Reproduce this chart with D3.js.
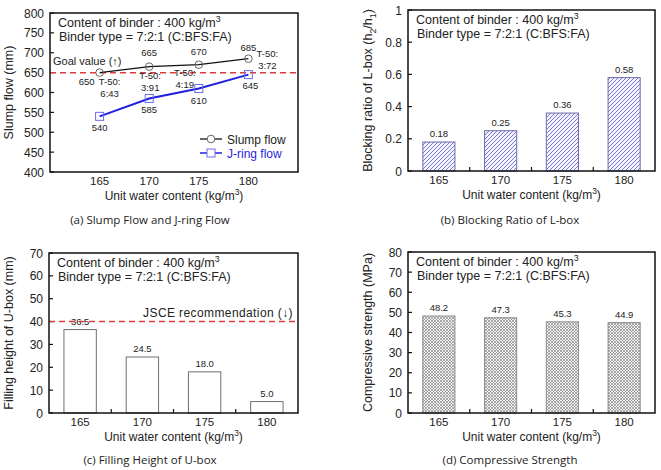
<!DOCTYPE html>
<html>
<head>
<meta charset="utf-8">
<script src="https://cdn.jsdelivr.net/npm/d3@7"></script>
<style>
  body { margin: 0; background: #fff; }
  svg text { font-family: "Liberation Sans", Arial, sans-serif; }
  .cap { font-family: "Open Sans", "Noto Sans", sans-serif; }
</style>
</head>
<body>
<div id="chart"></div>
<script>
// data
var water = [165, 170, 175, 180];
var slumpFlow = [650, 665, 670, 685];
var jringFlow = [540, 585, 610, 645];
var t50 = ['6:43', '3:91', '4:19', '3:72'];
var blockingRatio = [0.18, 0.25, 0.36, 0.58];
var blockingLabels = ['0.18', '0.25', '0.36', '0.58'];
var fillingHeight = [36.5, 24.5, 18.0, 5.0];
var fillingLabels = ['36.5', '24.5', '18.0', '5.0'];
var strength = [48.2, 47.3, 45.3, 44.9];
var strengthLabels = ['48.2', '47.3', '45.3', '44.9'];
var slumpTicks = [400, 450, 500, 550, 600, 650, 700, 750, 800];
var ratioTicks = [0, 0.2, 0.4, 0.6, 0.8, 1];
var fillTicks = [0, 10, 20, 30, 40, 50, 60, 70];
var strengthTicks = [0, 10, 20, 30, 40, 50, 60, 70, 80];
var goalValue = 650;
var jsceValue = 40;

var colours = {
    axis: '#111',
    red: '#e03a3a',
    slump: '#111',
    slumpMarker: '#666',
    jring: '#1f1fe0',
    jringMarker: '#6b6bf0',
    hatch: '#7b7bd6',
    barStroke: '#707070',
    text: '#222'
};

var svg = d3.select('#chart').append('svg')
    .attr('width', 661)
    .attr('height', 470);

// patterns
var defs = svg.append('defs');
var hatch = defs.append('pattern')
    .attr('id', 'hatch')
    .attr('patternUnits', 'userSpaceOnUse')
    .attr('width', 4).attr('height', 4);
hatch.append('rect').attr('width', 4).attr('height', 4).attr('fill', '#f3f3ff');
hatch.append('path')
    .attr('d', 'M0,4 l4,-4 M-1,1 l2,-2 M3,5 l2,-2')
    .attr('stroke', colours.hatch)
    .attr('stroke-width', 1);

var cross = defs.append('pattern')
    .attr('id', 'cross')
    .attr('patternUnits', 'userSpaceOnUse')
    .attr('width', 3).attr('height', 3);
cross.append('rect').attr('width', 3).attr('height', 3).attr('fill', '#f2f2f2');
cross.append('path')
    .attr('d', 'M0,0 L3,3 M3,0 L0,3')
    .attr('stroke', '#8a8a8a')
    .attr('stroke-width', 0.7);

// text with a superscript "3" for kg/m3
function unitText(sel, before, after) {
    sel.append('tspan').text(before);
    sel.append('tspan').attr('dy', -5).attr('font-size', '0.7em').text('3');
    sel.append('tspan').attr('dy', 5).text(after);
}

// box, y axis, x label, notes, caption
function frame(p) {
    var g = svg.append('g');
    var y = d3.scaleLinear().domain(p.yDomain).range([p.bottom, p.top]);

    g.selectAll('.ytick').data(p.yTicks).enter().append('line')
        .attr('x1', p.left).attr('x2', p.left + 4)
        .attr('y1', function(d) { return y(d); })
        .attr('y2', function(d) { return y(d); })
        .attr('stroke', colours.axis).attr('stroke-width', 1.2);

    g.selectAll('.ylab').data(p.yTicks).enter().append('text')
        .attr('x', p.left - 6)
        .attr('y', function(d) { return y(d) + 4.5; })
        .attr('text-anchor', 'end')
        .style('font-size', '12px')
        .attr('fill', colours.text)
        .text(function(d) { return d; });

    // y title
    var yt = g.append('text')
        .attr('transform', 'translate(' + p.yTitleX + ',' + ((p.top + p.bottom) / 2) + ') rotate(-90)')
        .attr('text-anchor', 'middle')
        .style('font-size', '12.5px')
        .attr('fill', colours.text);
    p.yTitle(yt);

    // x title
    var xt = g.append('text')
        .attr('x', (p.left + p.right) / 2)
        .attr('y', p.bottom + 28)
        .attr('text-anchor', 'middle')
        .style('font-size', '12px')
        .attr('fill', colours.text);
    unitText(xt, 'Unit water content (kg/m', ')');

    // notes
    var n1 = g.append('text')
        .attr('x', p.left + 8).attr('y', p.top + 14)
        .style('font-size', '12.5px').attr('fill', colours.text);
    unitText(n1, 'Content of binder : 400 kg/m', '');
    g.append('text')
        .attr('x', p.left + 9).attr('y', p.top + 28)
        .style('font-size', '12.5px').attr('fill', colours.text)
        .text('Binder type = 7:2:1 (C:BFS:FA)');

    // caption
    g.append('text')
        .attr('class', 'cap')
        .attr('x', p.captionX).attr('y', p.captionY)
        .attr('text-anchor', 'middle')
        .style('font-size', '11.5px')
        .attr('fill', colours.text)
        .text(p.caption);

    return { g: g, y: y };
}

function box(g, p) {
    g.append('rect')
        .attr('x', p.left).attr('y', p.top)
        .attr('width', p.right - p.left).attr('height', p.bottom - p.top)
        .attr('fill', 'none')
        .attr('stroke', colours.axis)
        .attr('stroke-width', 1.5);
}

// bar chart panels
function barPanel(p, values, labels, fill, stroke) {
    var f = frame(p);
    var g = f.g, y = f.y;
    var x = d3.scaleBand().domain(water).range([p.left, p.right])
        .paddingInner(0.48).paddingOuter(0.24);

    g.selectAll('.bar').data(values).enter().append('rect')
        .attr('x', function(d, i) { return x(water[i]); })
        .attr('y', function(d) { return y(d); })
        .attr('width', x.bandwidth())
        .attr('height', function(d) { return p.bottom - y(d); })
        .attr('fill', fill)
        .attr('stroke', stroke)
        .attr('stroke-width', 1);

    g.selectAll('.val').data(values).enter().append('text')
        .attr('x', function(d, i) { return x(water[i]) + x.bandwidth() / 2; })
        .attr('y', function(d) { return y(d) - 5; })
        .attr('text-anchor', 'middle')
        .style('font-size', '9.5px')
        .attr('fill', colours.text)
        .text(function(d, i) { return labels[i]; });

    // x ticks between categories
    g.selectAll('.xtick').data(water.slice(1)).enter().append('line')
        .attr('x1', function(d) { return x(d) - x.step() * 0.24; })
        .attr('x2', function(d) { return x(d) - x.step() * 0.24; })
        .attr('y1', p.bottom).attr('y2', p.bottom - 4)
        .attr('stroke', colours.axis).attr('stroke-width', 1.2);

    g.selectAll('.xlab').data(water).enter().append('text')
        .attr('x', function(d) { return x(d) + x.bandwidth() / 2; })
        .attr('y', p.bottom + 13)
        .attr('text-anchor', 'middle')
        .style('font-size', '11.5px')
        .attr('fill', colours.text)
        .text(function(d) { return d; });

    return { g: g, x: x, y: y };
}

// (a) slump flow and J-ring flow
var pa = {
    left: 50, top: 13, right: 298, bottom: 172,
    yDomain: [400, 800], yTicks: slumpTicks, yTitleX: 13,
    yTitle: function(t) { t.text('Slump flow (mm)'); },
    caption: '(a) Slump Flow and J-ring Flow', captionX: 150, captionY: 224
};
var fa = frame(pa);
var xa = d3.scaleLinear().domain([160, 185]).range([pa.left, pa.right]);
var ya = fa.y;

fa.g.selectAll('.xlab').data(water).enter().append('text')
    .attr('x', function(d) { return xa(d); })
    .attr('y', pa.bottom + 13)
    .attr('text-anchor', 'middle')
    .style('font-size', '11.5px')
    .attr('fill', colours.text)
    .text(function(d) { return d; });

fa.g.append('line')
    .attr('x1', pa.left).attr('x2', pa.right)
    .attr('y1', ya(goalValue)).attr('y2', ya(goalValue))
    .attr('stroke', colours.red).attr('stroke-width', 1.5)
    .attr('stroke-dasharray', '6,4');

fa.g.append('text')
    .attr('x', pa.left + 3).attr('y', ya(goalValue) - 8)
    .style('font-size', '11px').attr('fill', colours.text)
    .text('Goal value (↑)');

var line = d3.line()
    .x(function(d, i) { return xa(water[i]); })
    .y(function(d) { return ya(d); });

fa.g.append('path').datum(slumpFlow)
    .attr('d', line).attr('fill', 'none')
    .attr('stroke', colours.slump).attr('stroke-width', 1.3);
fa.g.append('path').datum(jringFlow)
    .attr('d', line).attr('fill', 'none')
    .attr('stroke', colours.jring).attr('stroke-width', 2);

fa.g.selectAll('.sm').data(slumpFlow).enter().append('circle')
    .attr('cx', function(d, i) { return xa(water[i]); })
    .attr('cy', function(d) { return ya(d); })
    .attr('r', 3.8)
    .attr('fill', 'none').attr('stroke', colours.slumpMarker).attr('stroke-width', 1);
fa.g.selectAll('.jm').data(jringFlow).enter().append('rect')
    .attr('x', function(d, i) { return xa(water[i]) - 4; })
    .attr('y', function(d) { return ya(d) - 4; })
    .attr('width', 8).attr('height', 8)
    .attr('fill', 'none').attr('stroke', colours.jringMarker).attr('stroke-width', 1);

// point labels
var slumpOff = [[-13, 12], [0, -11], [0, -10], [0, -8]];
var jringOff = [[0, 15], [0, 15], [0, 15], [2, 14]];
var t50Off = [[10, 12], [1, 12], [-14, 11], [19, -2]];
fa.g.selectAll('.sl').data(slumpFlow).enter().append('text')
    .attr('x', function(d, i) { return xa(water[i]) + slumpOff[i][0]; })
    .attr('y', function(d, i) { return ya(d) + slumpOff[i][1]; })
    .attr('text-anchor', 'middle')
    .style('font-size', '9.5px').attr('fill', colours.text)
    .text(function(d) { return d; });
fa.g.selectAll('.jl').data(jringFlow).enter().append('text')
    .attr('x', function(d, i) { return xa(water[i]) + jringOff[i][0]; })
    .attr('y', function(d, i) { return ya(d) + jringOff[i][1]; })
    .attr('text-anchor', 'middle')
    .style('font-size', '9.5px').attr('fill', colours.text)
    .text(function(d) { return d; });
var tl = fa.g.selectAll('.tl').data(t50).enter().append('text')
    .attr('text-anchor', 'middle')
    .style('font-size', '9.5px').attr('fill', colours.text);
tl.append('tspan')
    .attr('x', function(d, i) { return xa(water[i]) + t50Off[i][0]; })
    .attr('y', function(d, i) { return ya(slumpFlow[i]) + t50Off[i][1]; })
    .text('T-50:');
tl.append('tspan')
    .attr('x', function(d, i) { return xa(water[i]) + t50Off[i][0]; })
    .attr('dy', 12)
    .text(function(d) { return d; });

// legend
var lg = fa.g.append('g').attr('transform', 'translate(200,139)');
lg.append('line').attr('x1', 0).attr('x2', 22).attr('stroke', colours.slump).attr('stroke-width', 1.3);
lg.append('circle').attr('cx', 11).attr('r', 3.8).attr('fill', 'white').attr('stroke', colours.slumpMarker);
lg.append('text').attr('x', 27).attr('y', 4.5).style('font-size', '12px').attr('fill', colours.text).text('Slump flow');
lg.append('line').attr('x1', 0).attr('x2', 22).attr('y1', 14).attr('y2', 14).attr('stroke', colours.jring).attr('stroke-width', 1.5);
lg.append('rect').attr('x', 7).attr('y', 10).attr('width', 8).attr('height', 8).attr('fill', 'white').attr('stroke', colours.jringMarker);
lg.append('text').attr('x', 27).attr('y', 18.5).style('font-size', '12px').attr('fill', colours.jring).text('J-ring flow');

box(fa.g, pa);

// (b) blocking ratio
var pb = {
    left: 408, top: 10, right: 655, bottom: 171,
    yDomain: [0, 1], yTicks: ratioTicks, yTitleX: 372,
    yTitle: function(t) {
        t.append('tspan').text('Blocking ratio of L-box (h');
        t.append('tspan').attr('dy', 4).attr('font-size', '0.7em').text('2');
        t.append('tspan').attr('dy', -4).text('/h');
        t.append('tspan').attr('dy', 4).attr('font-size', '0.7em').text('1');
        t.append('tspan').attr('dy', -4).text(')');
    },
    caption: '(b) Blocking Ratio of L-box', captionX: 510, captionY: 224
};
var fb = barPanel(pb, blockingRatio, blockingLabels, 'url(#hatch)', '#6c6ca8');
box(fb.g, pb);

// (c) filling height
var pc = {
    left: 49, top: 253, right: 298, bottom: 413,
    yDomain: [0, 70], yTicks: fillTicks, yTitleX: 13,
    yTitle: function(t) { t.text('Filling height of U-box (mm)'); },
    caption: '(c) Filling Height of U-box', captionX: 150, captionY: 464
};
var fc = barPanel(pc, fillingHeight, fillingLabels, 'white', colours.barStroke);
fc.g.append('line')
    .attr('x1', pc.left).attr('x2', pc.right)
    .attr('y1', fc.y(jsceValue)).attr('y2', fc.y(jsceValue))
    .attr('stroke', colours.red).attr('stroke-width', 1.5)
    .attr('stroke-dasharray', '6,4');
fc.g.append('text')
    .attr('x', pc.right - 5).attr('y', fc.y(jsceValue) - 5)
    .attr('text-anchor', 'end')
    .style('font-size', '12px').style('letter-spacing', '0.4px')
    .attr('fill', colours.text)
    .text('JSCE recommendation (↓)');
box(fc.g, pc);

// (d) compressive strength
var pd = {
    left: 408, top: 252, right: 655, bottom: 413,
    yDomain: [0, 80], yTicks: strengthTicks, yTitleX: 372,
    yTitle: function(t) { t.text('Compressive strength (MPa)'); },
    caption: '(d) Compressive Strength', captionX: 510, captionY: 464
};
var fd = barPanel(pd, strength, strengthLabels, 'url(#cross)', '#8a8a8a');
box(fd.g, pd);
</script>
</body>
</html>
